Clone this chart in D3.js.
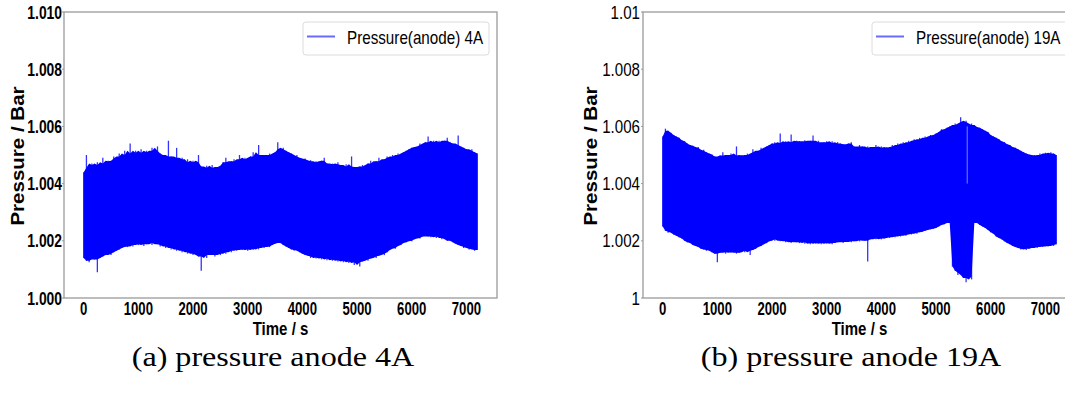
<!DOCTYPE html>
<html><head><meta charset="utf-8">
<script src="https://cdn.jsdelivr.net/npm/d3@7"></script>
<style>body{margin:0;background:#fff} svg{display:block}</style>
</head><body><svg id="c" width="1065" height="401"></svg>
<script>
const times = [
0,50,100,150,200,250,300,350,400,450,500,550,600,650,700,750,800,850,900,950,
1000,1050,1100,1150,1200,1250,1300,1350,1400,1450,1500,1550,1600,1650,1700,1750,1800,1850,1900,1950,
2000,2050,2100,2150,2200,2250,2300,2350,2400,2450,2500,2550,2600,2650,2700,2750,2800,2850,2900,2950,
3000,3050,3100,3150,3200,3250,3300,3350,3400,3450,3500,3550,3600,3650,3700,3750,3800,3850,3900,3950,
4000,4050,4100,4150,4200,4250,4300,4350,4400,4450,4500,4550,4600,4650,4700,4750,4800,4850,4900,4950,
5000,5050,5100,5150,5200,5250,5300,5350,5400,5450,5500,5550,5600,5650,5700,5750,5800,5850,5900,5950,
6000,6050,6100,6150,6200,6250,6300,6350,6400,6450,6500,6550,6600,6650,6700,6750,6800,6850,6900,6950,
7000,7050,7100,7150,7200];

const upper4A = [
1.00440,1.00500,1.00455,1.00470,1.00465,1.00475,1.00460,1.00490,1.00470,1.00480,
1.00478,1.00495,1.00488,1.00505,1.00495,1.00515,1.00500,1.00540,1.00505,1.00515,
1.00508,1.00520,1.00505,1.00515,1.00510,1.00525,1.00515,1.00530,1.00505,1.00500,
1.00495,1.00550,1.00495,1.00490,1.00525,1.00485,1.00490,1.00475,1.00485,1.00470,
1.00480,1.00475,1.00500,1.00460,1.00450,1.00462,1.00455,1.00465,1.00450,1.00458,
1.00462,1.00475,1.00490,1.00470,1.00478,1.00485,1.00478,1.00500,1.00485,1.00490,
1.00485,1.00495,1.00510,1.00490,1.00535,1.00500,1.00500,1.00495,1.00505,1.00500,
1.00510,1.00545,1.00520,1.00525,1.00515,1.00510,1.00505,1.00495,1.00500,1.00490,
1.00485,1.00488,1.00478,1.00482,1.00475,1.00478,1.00470,1.00480,1.00490,1.00470,
1.00462,1.00470,1.00468,1.00475,1.00465,1.00460,1.00468,1.00460,1.00495,1.00458,
1.00455,1.00460,1.00465,1.00460,1.00470,1.00480,1.00470,1.00478,1.00490,1.00475,
1.00485,1.00495,1.00490,1.00500,1.00495,1.00505,1.00500,1.00510,1.00515,1.00520,
1.00525,1.00528,1.00530,1.00540,1.00535,1.00545,1.00565,1.00545,1.00550,1.00545,
1.00550,1.00540,1.00550,1.00560,1.00545,1.00540,1.00535,1.00568,1.00530,1.00525,
1.00520,1.00515,1.00520,1.00510,1.00505];

const lower4A = [
1.00140,1.00130,1.00125,1.00145,1.00135,1.00090,1.00140,1.00145,1.00150,1.00155,
1.00150,1.00160,1.00165,1.00170,1.00175,1.00180,1.00178,1.00185,1.00180,1.00188,
1.00185,1.00190,1.00182,1.00188,1.00192,1.00185,1.00195,1.00188,1.00180,1.00185,
1.00175,1.00180,1.00170,1.00175,1.00165,1.00170,1.00160,1.00165,1.00155,1.00160,
1.00150,1.00155,1.00145,1.00095,1.00150,1.00140,1.00155,1.00150,1.00145,1.00155,
1.00150,1.00160,1.00155,1.00165,1.00160,1.00168,1.00165,1.00175,1.00168,1.00170,
1.00165,1.00172,1.00168,1.00175,1.00170,1.00178,1.00175,1.00180,1.00178,1.00185,
1.00190,1.00195,1.00192,1.00185,1.00180,1.00175,1.00170,1.00165,1.00168,1.00160,
1.00155,1.00150,1.00148,1.00140,1.00145,1.00138,1.00142,1.00135,1.00140,1.00132,
1.00138,1.00130,1.00135,1.00128,1.00132,1.00125,1.00130,1.00122,1.00128,1.00115,
1.00125,1.00110,1.00128,1.00135,1.00130,1.00138,1.00145,1.00140,1.00148,1.00155,
1.00150,1.00160,1.00168,1.00175,1.00172,1.00182,1.00185,1.00192,1.00195,1.00200,
1.00198,1.00205,1.00210,1.00208,1.00215,1.00225,1.00215,1.00212,1.00220,1.00210,
1.00215,1.00205,1.00210,1.00200,1.00200,1.00195,1.00190,1.00185,1.00182,1.00175,
1.00178,1.00170,1.00172,1.00165,1.00168];

const upper19A = [
1.00565,1.00592,1.00585,1.00578,1.00570,1.00565,1.00560,1.00552,1.00548,1.00540,
1.00535,1.00532,1.00525,1.00528,1.00515,1.00518,1.00510,1.00505,1.00502,1.00495,
1.00490,1.00498,1.00510,1.00495,1.00500,1.00505,1.00495,1.00530,1.00498,1.00500,
1.00495,1.00505,1.00500,1.00520,1.00510,1.00515,1.00525,1.00520,1.00530,1.00535,
1.00540,1.00545,1.00540,1.00575,1.00542,1.00548,1.00545,1.00572,1.00545,1.00550,
1.00548,1.00545,1.00552,1.00548,1.00550,1.00568,1.00545,1.00550,1.00540,1.00545,
1.00548,1.00542,1.00548,1.00540,1.00545,1.00540,1.00538,1.00535,1.00540,1.00545,
1.00530,1.00528,1.00535,1.00530,1.00525,1.00530,1.00525,1.00528,1.00535,1.00525,
1.00530,1.00520,1.00528,1.00525,1.00535,1.00530,1.00540,1.00535,1.00545,1.00540,
1.00550,1.00545,1.00555,1.00552,1.00560,1.00555,1.00565,1.00560,1.00570,1.00568,
1.00575,1.00580,1.00590,1.00588,1.00595,1.00600,1.00605,1.00610,1.00605,1.00632,
1.00615,1.00620,1.00600,1.00610,1.00605,1.00598,1.00595,1.00590,1.00585,1.00580,
1.00570,1.00565,1.00560,1.00555,1.00548,1.00545,1.00538,1.00535,1.00528,1.00525,
1.00520,1.00515,1.00510,1.00505,1.00502,1.00498,1.00500,1.00495,1.00505,1.00500,
1.00508,1.00505,1.00510,1.00505,1.00500];

const lower19A = [
1.00250,1.00235,1.00228,1.00232,1.00222,1.00218,1.00212,1.00208,1.00200,1.00195,
1.00192,1.00185,1.00182,1.00178,1.00172,1.00170,1.00165,1.00168,1.00160,1.00155,
1.00125,1.00158,1.00160,1.00155,1.00162,1.00158,1.00160,1.00155,1.00158,1.00165,
1.00160,1.00165,1.00150,1.00168,1.00172,1.00178,1.00182,1.00188,1.00192,1.00198,
1.00205,1.00200,1.00205,1.00198,1.00200,1.00195,1.00198,1.00192,1.00196,1.00195,
1.00192,1.00198,1.00190,1.00195,1.00188,1.00192,1.00190,1.00195,1.00188,1.00192,
1.00190,1.00195,1.00188,1.00192,1.00195,1.00198,1.00192,1.00196,1.00200,1.00195,
1.00198,1.00202,1.00198,1.00205,1.00200,1.00128,1.00205,1.00208,1.00205,1.00210,
1.00205,1.00208,1.00212,1.00210,1.00215,1.00212,1.00218,1.00215,1.00220,1.00218,
1.00225,1.00222,1.00228,1.00225,1.00230,1.00232,1.00235,1.00238,1.00240,1.00242,
1.00245,1.00250,1.00255,1.00258,1.00262,1.00270,1.00110,1.00095,1.00080,1.00088,
1.00070,1.00055,1.00075,1.00065,1.00268,1.00262,1.00255,1.00250,1.00245,1.00238,
1.00230,1.00225,1.00215,1.00210,1.00205,1.00198,1.00192,1.00188,1.00182,1.00178,
1.00175,1.00170,1.00172,1.00168,1.00172,1.00175,1.00178,1.00175,1.00180,1.00178,
1.00182,1.00180,1.00185,1.00182,1.00188];

// short interruption visible inside the 19A band
const gapTime19A = [5570];
const gapRange19A = [1.0040, 1.0060];

const xTickValues = [0,1000,2000,3000,4000,5000,6000,7000];
const yTickValues = [1.000,1.002,1.004,1.006,1.008,1.010];
const yTickLabelsA = ["1.000","1.002","1.004","1.006","1.008","1.010"];
const yTickLabelsB = ["1","1.002","1.004","1.006","1.008","1.01"];
const legendLabels = ["Pressure(anode) 4A","Pressure(anode) 19A"];
const captions = ["(a) pressure anode 4A","(b) pressure anode 19A"];
const xTitle = "Time / s";
const yTitle = "Pressure / Bar";

const svg = d3.select("#c");
const SANS = "'Liberation Sans', Arial, Helvetica, sans-serif";
const SERIF = "'Liberation Serif', 'Times New Roman', serif";

function txt(g, x, y, s, o) {
  return g.append("text")
    .attr("transform", `translate(${x},${y})${o.rot ? ` rotate(${o.rot})` : ""} scale(${o.kx || 1},1)`)
    .attr("text-anchor", o.anchor || "start")
    .style("font-family", o.family || SANS)
    .style("font-size", o.size + "px")
    .style("font-weight", o.weight || "normal")
    .style("fill", o.fill || "#000")
    .text(s);
}

function panel(cfg) {
  const g = svg.append("g");
  const x = d3.scaleLinear().domain([-360, 7560]).range([cfg.x0, cfg.x1]);
  const y = d3.scaleLinear().domain([1.000, 1.010]).range([298, 12]);
  const n = times.length;
  const rows = times.map((t, i) => {
    const a = Math.max(0, i - 1), b = Math.min(n - 1, i + 1);
    return {
      t, hi: cfg.upper[i], lo: cfg.lower[i],
      bodyHi: d3.median([cfg.upper[a], cfg.upper[i], cfg.upper[b]]),
      bodyLo: d3.median([cfg.lower[a], cfg.lower[i], cfg.lower[b]])
    };
  });

  // frame
  g.append("rect").attr("x", cfg.x0).attr("y", 12)
    .attr("width", cfg.x1 - cfg.x0).attr("height", 286)
    .attr("fill", "none").attr("stroke", "#9a9a9a").attr("stroke-width", 1.3);

  // dense body of the oscillation
  const area = d3.area().x(d => x(d.t)).y0(d => y(d.bodyLo)).y1(d => y(d.bodyHi));
  g.append("path").datum(rows).attr("d", area).attr("fill", "#0000ff");
  // individual excursions (thin blades)
  g.selectAll("line.blade").data(rows).join("line").attr("class", "blade")
    .attr("x1", d => x(d.t)).attr("x2", d => x(d.t))
    .attr("y1", d => y(d.hi)).attr("y2", d => y(d.lo))
    .attr("stroke", "#0000ff").attr("stroke-opacity", 0.8).attr("stroke-width", 1.3);

  if (cfg.gap) {
    g.selectAll("line.gap").data(cfg.gap).join("line").attr("class", "gap")
      .attr("x1", d => x(d)).attr("x2", d => x(d))
      .attr("y1", y(cfg.gapRange[1])).attr("y2", y(cfg.gapRange[0]))
      .attr("stroke", "#8080ff").attr("stroke-width", 1);
  }

  // y ticks
  yTickValues.forEach((v, i) => {
    g.append("line").attr("x1", cfg.x0 - 2).attr("x2", cfg.x0)
      .attr("y1", y(v)).attr("y2", y(v)).attr("stroke", "#9a9a9a").attr("stroke-width", 1);
    txt(g, cfg.x0 - cfg.yLabPad, y(v) + 6.6, cfg.yLabels[i],
      {size: 18, weight: cfg.yWeight, anchor: "end", kx: cfg.yKx});
  });
  // x ticks
  xTickValues.forEach(v => {
    txt(g, x(v), 315, String(v), {size: 18, weight: "bold", anchor: "middle", kx: 0.73});
  });
  const cx = (cfg.x0 + cfg.x1) / 2;
  txt(g, cx, 335, xTitle, {size: 18, weight: "bold", anchor: "middle", kx: 0.835});
  txt(g, cfg.yTitleX, 156, yTitle, {size: 18, weight: "bold", anchor: "middle", rot: -90, kx: 1.14});

  // legend
  const lg = g.append("g");
  lg.append("rect").attr("x", cfg.lx).attr("y", 22).attr("width", cfg.lw).attr("height", 33)
    .attr("rx", 3).attr("fill", "#fff").attr("stroke", "#dcdcdc").attr("stroke-width", 1);
  lg.append("line").attr("x1", cfg.lx + 4).attr("x2", cfg.lx + 32)
    .attr("y1", 36.5).attr("y2", 36.5).attr("stroke", "#6a6aff").attr("stroke-width", 2);
  txt(lg, cfg.lx + 44, 43.5, cfg.legend, {size: 18, kx: 0.845});

  txt(svg, cfg.capX, 366, cfg.caption, {size: 27, family: SERIF, anchor: "middle", kx: 1.19});
}

panel({x0: 64, x1: 497, upper: upper4A, lower: lower4A, yLabels: yTickLabelsA,
  yWeight: "bold", yKx: 0.77, yLabPad: 2, yTitleX: 24, lx: 303, lw: 186,
  legend: legendLabels[0], caption: captions[0], capX: 273});
panel({x0: 643, x1: 1076, upper: upper19A, lower: lower19A, yLabels: yTickLabelsB,
  yWeight: "normal", yKx: 0.84, yLabPad: 3, yTitleX: 597, lx: 872, lw: 210,
  legend: legendLabels[1], caption: captions[1], capX: 851,
  gap: gapTime19A, gapRange: gapRange19A});
</script></body></html>
